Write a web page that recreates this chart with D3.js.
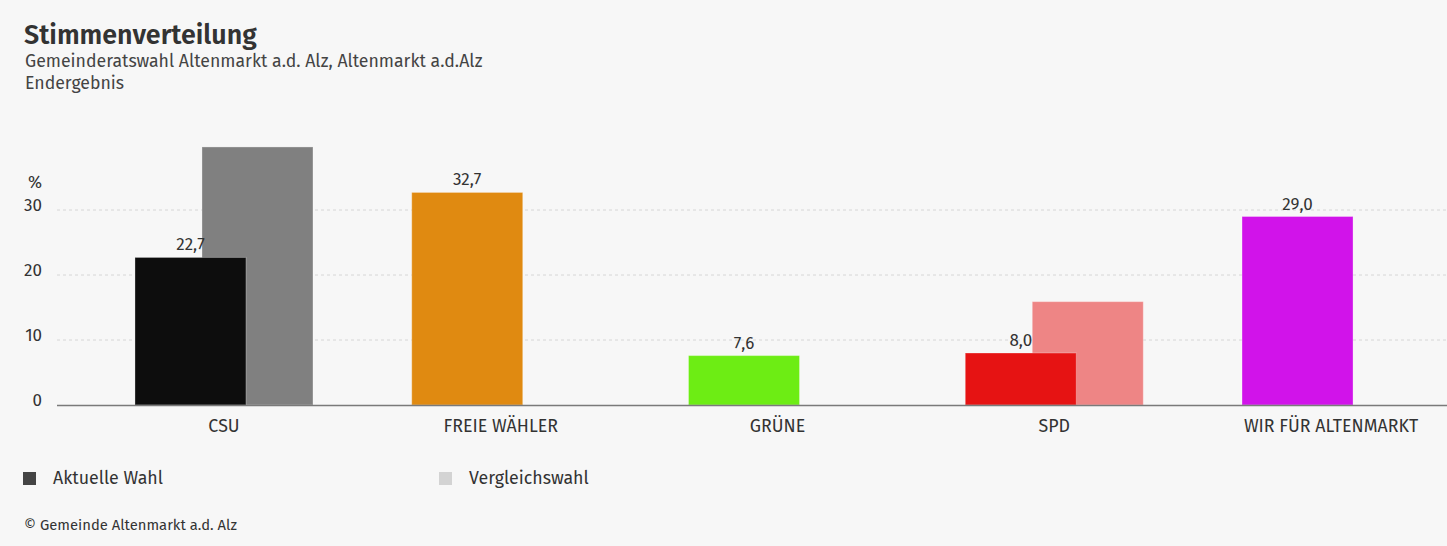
<!DOCTYPE html>
<html>
<head>
<meta charset="utf-8">
<script src="https://cdn.jsdelivr.net/npm/d3@7"></script>
<style>
  body { margin: 0; background: #f7f7f7; font-family: "Fira Sans", Roboto, "Noto Sans", sans-serif; color: #333; }
  #chart svg { display: block; }
</style>
</head>
<body>
<div id="chart"></div>
<script>
const parties = ['CSU', 'FREIE WÄHLER', 'GRÜNE', 'SPD', 'WIR FÜR ALTENMARKT'];
const current = [22.7, 32.7, 7.6, 8.0, 29.0];
const previous = [39.7, null, null, 15.9, null];
const party_colors = ['#0d0d0d', '#e08a11', '#6ded14', '#e61313', '#d113ea'];
const previous_colors = ['#808080', '#f0b870', '#b0f48a', '#ee8585', '#e88af4'];
const y_ticks = [0, 10, 20, 30];

const chart_width = 1447;
const chart_height = 546;
const font = '"Fira Sans", Roboto, "Noto Sans", sans-serif';

const svg = d3.select('#chart')
    .append('svg')
    .attr('width', chart_width)
    .attr('height', chart_height)
    .attr('font-family', font);

svg.append('rect')
    .attr('width', chart_width)
    .attr('height', chart_height)
    .attr('fill', '#f7f7f7');

// Title block
svg.append('text')
    .attr('x', 24).attr('y', 44)
    .attr('font-size', 26.8).attr('font-weight', 600)
    .attr('fill', '#333')
    .text('Stimmenverteilung');
svg.append('text')
    .attr('x', 25).attr('y', 67)
    .attr('font-size', 17.7).attr('fill', '#444')
    .text('Gemeinderatswahl Altenmarkt a.d. Alz, Altenmarkt a.d.Alz');
svg.append('text')
    .attr('x', 25).attr('y', 89)
    .attr('font-size', 17.7).attr('fill', '#444')
    .text('Endergebnis');

// Scales
const plot_left = 57;
const plot_right = 1447;

const x_scale = d3.scaleBand()
    .domain(parties)
    .range([85.6, 1469.4])
    .padding(0);

const y_scale = d3.scaleLinear()
    .domain([0, 30])
    .range([405, 210]);

// grid
svg.selectAll('.grid')
    .data(y_ticks.filter(d => d > 0))
    .enter()
    .append('line')
    .attr('x1', plot_left)
    .attr('x2', plot_right)
    .attr('y1', d => y_scale(d))
    .attr('y2', d => y_scale(d))
    .attr('stroke', '#d6d6d6')
    .attr('stroke-dasharray', '3,3');

// y axis labels
const y_axis = d3.axisLeft(y_scale)
    .tickValues(y_ticks)
    .tickSize(0)
    .tickPadding(0);
svg.append('g')
    .attr('transform', 'translate(42,0)')
    .call(y_axis)
    .attr('font-family', font)
    .attr('font-size', 17)
    .call(g => g.select('.domain').remove())
    .call(g => g.selectAll('text')
        .attr('fill', '#333')
        .attr('dy', '0.05em'));

svg.append('text')
    .attr('x', 42).attr('y', 188)
    .attr('text-anchor', 'end')
    .attr('font-size', 17).attr('fill', '#333')
    .text('%');

const bar_width = 111;
const bar_offset = 89;
const prev_offset = 22;

const rows = parties.map((p, i) => ({ party: p, cur: current[i], prev: previous[i], color: party_colors[i], prev_color: previous_colors[i] }));

// comparison bars
svg.selectAll('.prev')
    .data(rows.filter(d => d.prev !== null))
    .enter()
    .append('rect')
    .attr('x', d => x_scale(d.party) + x_scale.bandwidth() / 2 - prev_offset)
    .attr('y', d => y_scale(d.prev))
    .attr('width', bar_width)
    .attr('height', d => y_scale(0) - y_scale(d.prev))
    .attr('fill', d => d.prev_color)
    .attr('stroke', '#ffffff')
    .attr('stroke-opacity', 0.3)
    .attr('stroke-width', 1);

// current bars
svg.selectAll('.cur')
    .data(rows)
    .enter()
    .append('rect')
    .attr('x', d => x_scale(d.party) + x_scale.bandwidth() / 2 - bar_offset)
    .attr('y', d => y_scale(d.cur))
    .attr('width', bar_width)
    .attr('height', d => y_scale(0) - y_scale(d.cur))
    .attr('fill', d => d.color)
    .attr('stroke', '#ffffff')
    .attr('stroke-opacity', 0.3)
    .attr('stroke-width', 1);

// value labels
svg.selectAll('.val')
    .data(rows)
    .enter()
    .append('text')
    .attr('x', d => x_scale(d.party) + x_scale.bandwidth() / 2 - bar_offset + bar_width / 2)
    .attr('y', d => y_scale(d.cur) - 7)
    .attr('text-anchor', 'middle')
    .attr('font-size', 17)
    .attr('fill', '#333')
    .text(d => d.cur.toFixed(1).replace('.', ','));

// baseline
svg.append('line')
    .attr('x1', plot_left).attr('x2', plot_right)
    .attr('y1', y_scale(0) + 0.5).attr('y2', y_scale(0) + 0.5)
    .attr('stroke', '#7a7a7a')
    .attr('stroke-width', 1.5);

// x axis labels
const x_axis = d3.axisBottom(x_scale).tickSize(0).tickPadding(0);
svg.append('g')
    .attr('transform', 'translate(0,' + 432 + ')')
    .call(x_axis)
    .attr('font-family', font)
    .attr('font-size', 17.8)
    .call(g => g.select('.domain').remove())
    .call(g => g.selectAll('text')
        .attr('fill', '#333')
        .attr('dy', 0));

// legend
const legend = [
    { label: 'Aktuelle Wahl', color: '#444444', x: 23 },
    { label: 'Vergleichswahl', color: '#d3d3d3', x: 439 }
];
const lg = svg.selectAll('.legend')
    .data(legend)
    .enter()
    .append('g')
    .attr('transform', d => 'translate(' + d.x + ',471)');
lg.append('rect')
    .attr('width', 13).attr('height', 13)
    .attr('y', 1)
    .attr('fill', d => d.color);
lg.append('text')
    .attr('x', 30).attr('y', 13)
    .attr('font-size', 17.8).attr('fill', '#333')
    .text(d => d.label);

svg.append('text')
    .attr('x', 24).attr('y', 530)
    .attr('font-size', 14.8).attr('fill', '#333')
    .text('© Gemeinde Altenmarkt a.d. Alz');
</script>
</body>
</html>
